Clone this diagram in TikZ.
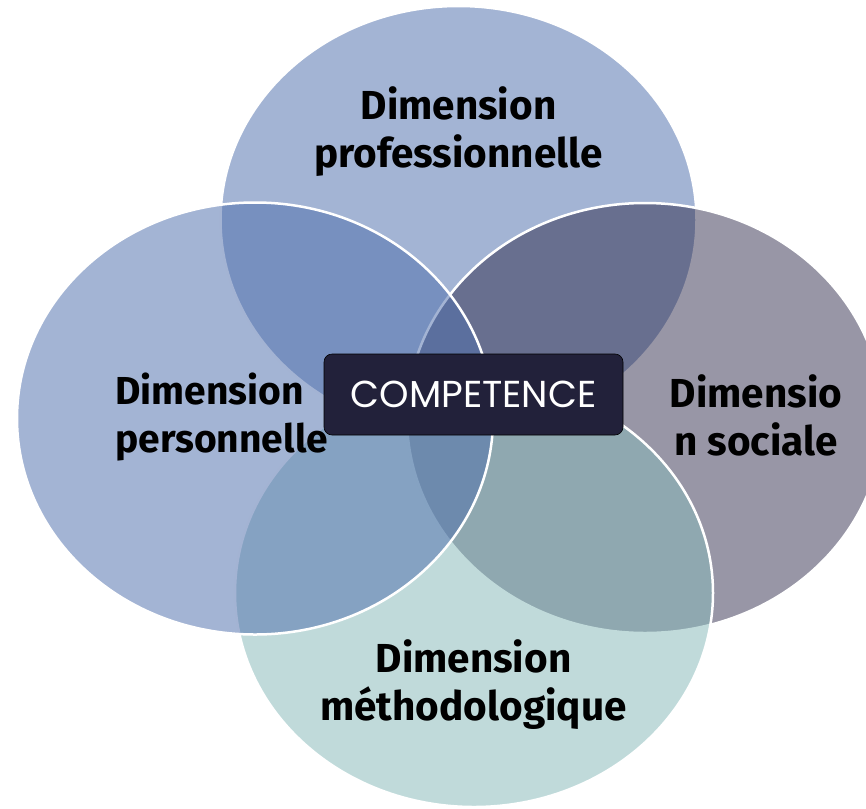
\documentclass[tikz,border=0pt]{standalone}
\usepackage{fontspec}
\setmainfont{Fira Sans}
\newfontfamily\compfont{Poppins}
\definecolor{dimblue}{RGB}{79,111,172}
\definecolor{dimnavy}{RGB}{40,36,69}
\definecolor{dimteal}{RGB}{135,185,185}
\definecolor{boxnavy}{RGB}{34,33,58}
\begin{document}
\begin{tikzpicture}[x=1pt,y=-1pt,line width=2.5pt,
    venn/.style={draw=white,fill=#1,fill opacity=0.52},
    dimtext/.style={font=\fontsize{40.5}{48}\selectfont\bfseries,align=center,anchor=base,inner sep=0pt}]
  \useasboundingbox (0,0) rectangle (866,808);
  \clip (0,0) rectangle (866,808);
  \path[venn=dimblue] (458.5,220) ellipse [x radius=238,y radius=214];
  \path[venn=dimnavy,fill opacity=0.48] (645,418) ellipse [x radius=238,y radius=215];
  \path[venn=dimteal] (474,593) ellipse [x radius=239,y radius=214];
  \path[venn=dimblue] (255,418.5) ellipse [x radius=238,y radius=216];
  \node[dimtext] (prof) at (458.5,167) {Dimension\\professionnelle};
  \node[dimtext,font=\fontsize{39}{48}\selectfont\bfseries,align=left,anchor=base west] (pers) at (114,452) {Dimension\\personnelle};
  \node[dimtext] (soc) at (756,455) {Dimensio\\n sociale};
  \node[dimtext] (meth) at (473.5,720) {Dimension\\méthodologique};
  \node[draw=black,line width=0.6pt,fill=boxnavy,rounded corners=8pt,minimum width=299pt,
    minimum height=81pt,text=white,font=\compfont\fontsize{37.5}{40}\selectfont] (comp) at (473.5,394.5) {COMPETENCE};
\end{tikzpicture}
\end{document}
